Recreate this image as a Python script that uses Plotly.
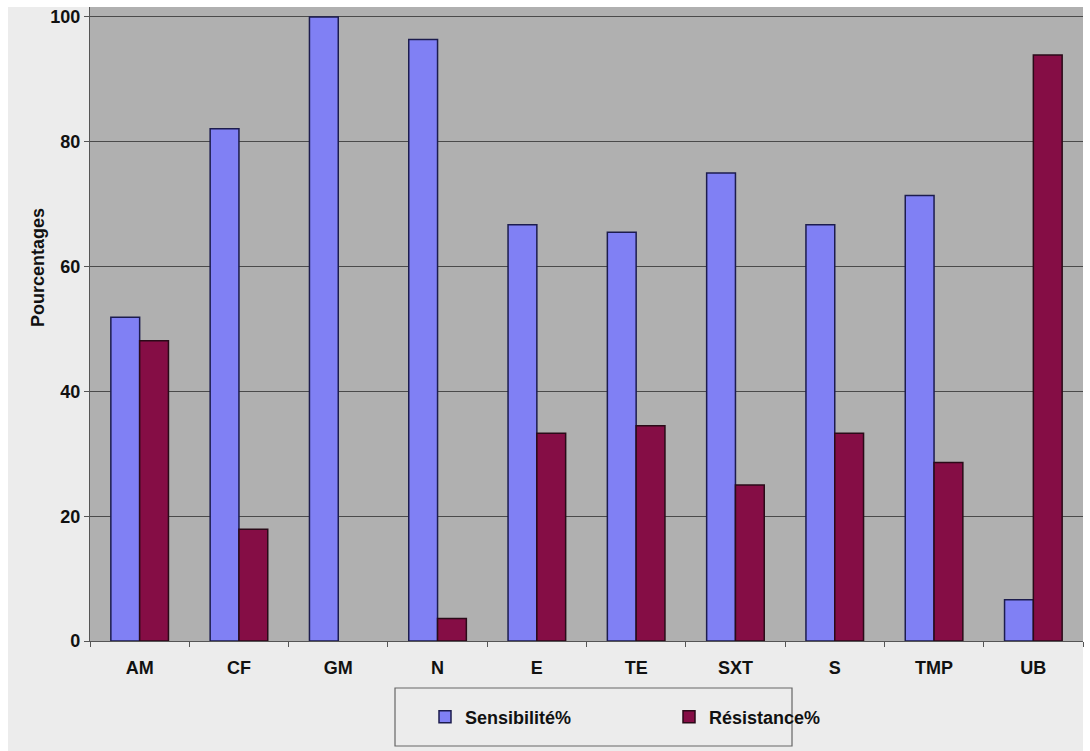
import plotly.graph_objects as go

categories = ["AM", "CF", "GM", "N", "E", "TE", "SXT", "S", "TMP", "UB"]
sensibilite = [51.9, 82.1, 100.0, 96.4, 66.7, 65.5, 75.0, 66.7, 71.4, 6.6]
resistance = [48.1, 17.9, 0.0, 3.6, 33.3, 34.5, 25.0, 33.3, 28.6, 93.9]
y_ticks = [0, 20, 40, 60, 80, 100]

FONT = "Liberation Sans Narrow, Arial Narrow, Liberation Sans, sans-serif"


def edge_widths(values):
    return [1.5 if v > 0 else 0 for v in values]


fig = go.Figure()
fig.add_trace(go.Bar(x=categories, y=sensibilite, name="Sensibilité%",
                     marker=dict(color="#8080F4",
                                 line=dict(color="#1c1c4e", width=edge_widths(sensibilite)))))
fig.add_trace(go.Bar(x=categories, y=resistance, name="Résistance%",
                     marker=dict(color="#850D45",
                                 line=dict(color="#2a0a18", width=edge_widths(resistance)))))

W, H = 1090, 751
ml, mr, mt, mb = 90, 7, 7, 110
pw, ph = W - ml - mr, H - mt - mb


def px(x):
    return (x - ml) / pw


def py(y):
    return (H - mb - y) / ph


fig.update_layout(
    width=W, height=H,
    margin=dict(l=ml, r=mr, t=mt, b=mb),
    paper_bgcolor="#FFFFFF",
    plot_bgcolor="rgba(0,0,0,0)",
    barmode="group",
    bargap=0.42,
    bargroupgap=0,
    font=dict(family=FONT, size=18, color="#111111"),
    showlegend=True,
    legend=dict(orientation="h", x=px(425), xanchor="left", y=py(717), yanchor="middle",
                entrywidth=199, entrywidthmode="pixels", bgcolor="rgba(0,0,0,0)",
                font=dict(family=FONT, size=18, color="#111111", weight="bold"),
                itemwidth=30),
    shapes=[
        dict(type="rect", xref="paper", yref="paper", layer="below",
             x0=px(8), x1=px(1083), y0=py(751), y1=py(7),
             fillcolor="#ECECEC", line=dict(width=0)),
        dict(type="rect", xref="paper", yref="paper", layer="below",
             x0=0, x1=1, y0=0, y1=1,
             fillcolor="#B0B0B0", line=dict(width=0)),
        dict(type="rect", xref="paper", yref="paper",
             x0=px(395), x1=px(792), y0=py(746), y1=py(688),
             fillcolor="rgba(0,0,0,0)", line=dict(color="#666666", width=1.2)),
    ],
    annotations=[
        dict(text="Pourcentages", xref="paper", yref="paper",
             x=px(38), y=py(268), xanchor="center", yanchor="middle",
             textangle=-90, showarrow=False,
             font=dict(family="Liberation Sans, Arial, sans-serif", size=18,
                       color="#111111", weight="bold")),
    ],
)

fig.update_xaxes(
    showline=True, linecolor="#555555", linewidth=1.2,
    ticks="outside", tickson="boundaries", ticklen=5, tickcolor="#555555",
    tickfont=dict(family=FONT, size=18, color="#111111", weight="bold"),
    ticklabelstandoff=10,
    showgrid=False,
)
fig.update_yaxes(
    range=[0, 101.6], tickvals=y_ticks,
    showline=True, linecolor="#555555", linewidth=1.2,
    ticks="outside", ticklen=5, tickcolor="#555555",
    tickfont=dict(family=FONT, size=18, color="#111111", weight="bold"),
    showgrid=True, gridcolor="#4a4a4a", gridwidth=1,
    zeroline=False,
)

fig.write_html("out.html")
